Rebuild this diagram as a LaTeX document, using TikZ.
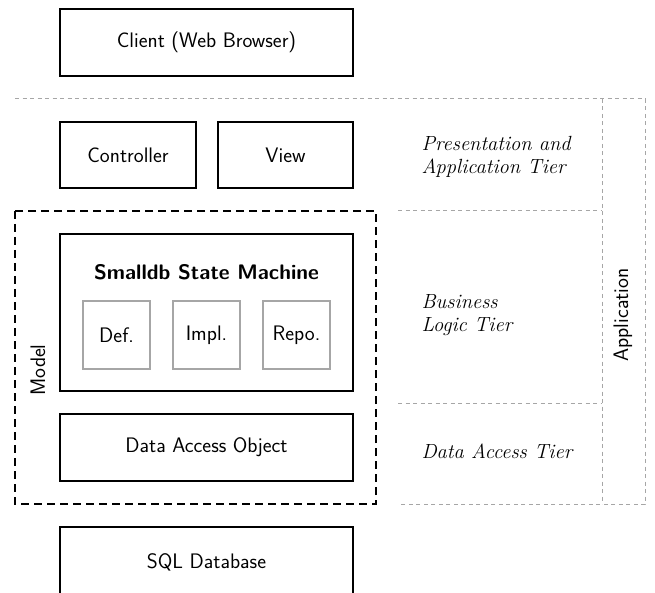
\documentclass[tikz,border=0pt]{standalone}
\usepackage{fontspec}
\begin{document}
\begin{tikzpicture}[x=1pt,y=-1pt,
  box/.style={draw=black,line width=1.2pt,fill=white,inner sep=0pt,font=\sffamily\fontsize{21}{24}\selectfont},
  subbox/.style={draw=black!35,line width=1.2pt,inner sep=0pt,font=\sffamily\fontsize{21}{24}\selectfont},
  graydash/.style={draw=black!35,line width=1pt,dash pattern=on 4pt off 3.5pt},
  blackdash/.style={draw=black,line width=1.2pt,dash pattern=on 8pt off 5pt},
  tier/.style={anchor=west,align=left,font=\itshape\fontsize{20.5}{23}\selectfont},
  vlabel/.style={rotate=90,font=\sffamily\fontsize{21}{24}\selectfont}]
\useasboundingbox (0,0) rectangle (655,593);
% gray tier frame
\coordinate (tl) at (15,99);
\coordinate (tr) at (645,99);
\coordinate (br) at (645,504);
\coordinate (ab) at (602,504);
\coordinate (at) at (602,99);
\coordinate (l1a) at (398,211);
\coordinate (l1b) at (602,211);
\coordinate (l2a) at (398,403);
\coordinate (l2b) at (602,403);
\coordinate (l3a) at (398,504);
\draw[graydash] (tl) -- (tr) -- (br) -- (l3a);
\draw[graydash] (at) -- (ab);
\draw[graydash] (l1a) -- (l1b);
\draw[graydash] (l2a) -- (l2b);
% model frame
\draw[blackdash] (15,211) rectangle (376,504);
\node[vlabel] (model) at (38,370) {Model};
\node[vlabel] (app) at (623,315) {Application};
% boxes
\node[box,minimum width=293pt,minimum height=67pt] (client) at (206.5,42.5) {Client (Web Browser)};
\node[box,minimum width=136pt,minimum height=66pt] (ctrl) at (128,155) {Controller};
\node[box,minimum width=135pt,minimum height=66pt] (view) at (285.5,155) {View};
\node[box,minimum width=293pt,minimum height=157pt] (sm) at (206.5,312.5) {};
\node[font=\sffamily\bfseries\fontsize{21}{24}\selectfont] (smt) at (206.5,272) {Smalldb State Machine};
\node[subbox,minimum width=67pt,minimum height=68pt] (def) at (116.5,335) {Def.};
\node[subbox,minimum width=67pt,minimum height=68pt] (impl) at (206.5,335) {Impl.};
\node[subbox,minimum width=67pt,minimum height=68pt] (repo) at (296.5,335) {Repo.};
\node[box,minimum width=293pt,minimum height=67pt] (dao) at (206.5,447.5) {Data Access Object};
\node[box,minimum width=293pt,minimum height=70pt] (sql) at (206.5,562) {SQL Database};
% tier labels
\node[tier] (pt) at (418,157) {Presentation and\\Application Tier};
\node[tier] (bt) at (418,315) {Business\\Logic Tier};
\node[tier] (dt) at (418,451) {Data Access Tier};
\end{tikzpicture}
\end{document}
